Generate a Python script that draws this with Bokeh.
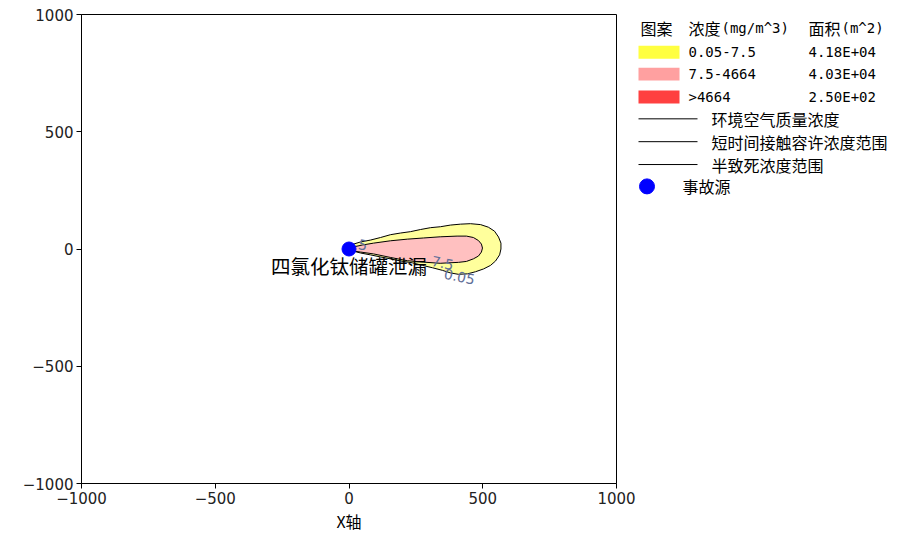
from bokeh.plotting import figure
from bokeh.layouts import row
from bokeh.models import Range1d, FixedTicker, CustomJSTickFormatter, ColumnDataSource
from bokeh.core.properties import value
from bokeh.embed import file_html
from bokeh.resources import INLINE

# ---------------- data ----------------
ticks = [-1000, -500, 0, 500, 1000]

# 0.05 mg/m^3 contour (m)
yellow_x = [6, 43, 80, 118, 155, 192, 230, 267, 305, 342, 379, 417, 454, 492, 521, 544, 559, 568,
            568, 563, 548, 529, 503, 473, 443, 409, 379, 349, 312, 275, 237, 192, 155, 118, 80, 43, 13]
yellow_y = [17, 30, 38, 49, 61, 68, 74, 83, 91, 95, 102, 106, 108, 104, 93, 76, 51, 25,
            0, -25, -51, -70, -85, -97, -106, -108, -102, -91, -80, -70, -59, -51, -42, -34, -25, -17, -8]
# 7.5 mg/m^3 contour (m)
pink_x = [13, 50, 92, 155, 218, 279, 341, 404, 439, 465, 484, 495, 499, 495, 484, 465, 439, 409,
          372, 341, 279, 218, 155, 92, 43, 13]
pink_y = [8, 17, 25, 35, 42, 47, 52, 55, 55, 49, 36, 21, 4, -13, -30, -42, -53, -57,
          -59, -61, -56, -50, -36, -21, -13, -8]
# 4664 mg/m^3 contour (m)
red_x = [0, 10, 16, 10, 0, -5]
red_y = [7, 5, 0, -5, -7, 0]

contour_texts = ["5", "7.5", "0.05"]
contour_text_x = [52, 350, 413]
contour_text_y = [17, -60, -118]

source_x = [0]
source_y = [0]
source_name = "四氯化钛储罐泄漏"

header_pattern = "图案"
header_conc = ["浓度", "(mg/m^3)"]
header_area = ["面积", "(m^2)"]
band_ranges = ["0.05-7.5", "7.5-4664", ">4664"]
band_areas = ["4.18E+04", "4.03E+04", "2.50E+02"]
band_colors = ["#ffff40", "#ffa0a0", "#ff4040"]
line_names = ["环境空气质量浓度", "短时间接触容许浓度范围", "半致死浓度范围"]
source_legend = "事故源"
x_axis_title = "X轴"

CJK = "Noto Sans CJK SC"
MONO = "DejaVu Sans Mono"

# ---------------- main figure ----------------
p = figure(width=637, height=535, x_range=Range1d(-1000, 1000), y_range=Range1d(-1000, 1000),
           output_backend="svg", toolbar_location=None,
           min_border_left=81, min_border_right=21, min_border_top=14, min_border_bottom=49)
p.grid.visible = False
p.outline_line_color = "black"
p.outline_line_width = 1
p.outline_line_alpha = 1

fmt = CustomJSTickFormatter(code="return tick < 0 ? '\\u2212' + (-tick) : '' + tick;")
for ax in (p.xaxis[0], p.yaxis[0]):
    ax.ticker = FixedTicker(ticks=ticks)
    ax.formatter = fmt
    ax.axis_line_color = "black"
    ax.major_tick_line_color = "black"
    ax.major_tick_out = 5
    ax.major_tick_in = 0
    ax.minor_tick_line_color = None
    ax.major_label_text_font = "DejaVu Sans"
    ax.major_label_text_font_size = "15px"
    ax.major_label_text_color = "#222222"
    ax.major_label_standoff = 3

p.xaxis.axis_label = x_axis_title
p.xaxis.axis_label_text_font = CJK
p.xaxis.axis_label_text_font_size = "16px"
p.xaxis.axis_label_text_font_style = "normal"
p.xaxis.axis_label_text_color = "black"
p.xaxis.axis_label_standoff = 2

p.patch(yellow_x, yellow_y, fill_color="#ffff9c", line_color="black", line_width=1)
p.patch(pink_x, pink_y, fill_color="#ffc0c0", line_color="black", line_width=1)
p.patch(red_x, red_y, fill_color="#ff4040", line_color="black", line_width=1)

p.scatter(source_x, source_y, size=14, fill_color="#0000ff", line_color="#0000ff")

p.text(x=source_x, y=source_y, text=[source_name], x_offset=-78, y_offset=16,
       text_font=value(CJK), text_font_size="19.5px", text_color="black",
       text_align="left", text_baseline="middle")

csrc = ColumnDataSource(dict(x=contour_text_x, y=contour_text_y, t=contour_texts))
p.text(x="x", y="y", text="t", source=csrc, angle=-0.2,
       text_font=value("DejaVu Sans"), text_font_size="14px", text_color="#5f6f98",
       text_align="center", text_baseline="middle")

# ---------------- legend figure (page pixel coordinates) ----------------
# the row aligns this figure's frame with the main frame (page y 14..486)
L0 = 637
lg = figure(width=898 - L0, height=535, x_range=Range1d(L0, 898), y_range=Range1d(486, 14),
            output_backend="svg", toolbar_location=None, min_border=0,
            x_axis_location=None, y_axis_location=None)
lg.grid.visible = False
lg.outline_line_color = None

def txt(xs, ys, ts, font=CJK, size="15px"):
    lg.text(x=xs, y=ys, text=ts, text_font=value(font), text_font_size=size,
            text_color="black", text_align="left", text_baseline="middle")

txt([640, 688, 808], [28, 28, 28], [header_pattern, header_conc[0], header_area[0]], size="16px")
txt([721, 841], [28, 28], [header_conc[1], header_area[1]], font=MONO, size="14px")

row_y = [52, 74, 97]
lg.quad(left=[638] * 3, right=[679] * 3, top=[y - 6.5 for y in row_y], bottom=[y + 6.5 for y in row_y],
        fill_color=band_colors, line_color=None)
txt([688] * 3, row_y, band_ranges, font=MONO, size="14px")
txt([808] * 3, row_y, band_areas, font=MONO, size="14px")

line_y = [119, 142, 165]
lg.segment(x0=[638] * 3, x1=[697] * 3, y0=line_y, y1=line_y, line_color="black", line_width=1)
txt([711] * 3, line_y, line_names, size="16px")

lg.scatter([646.5], [187], size=15, fill_color="#0000ff", line_color="#0000ff")
txt([682], [187], [source_legend], size="16px")

layout = row(p, lg)
open("out.html", "w").write(file_html(layout, INLINE))
